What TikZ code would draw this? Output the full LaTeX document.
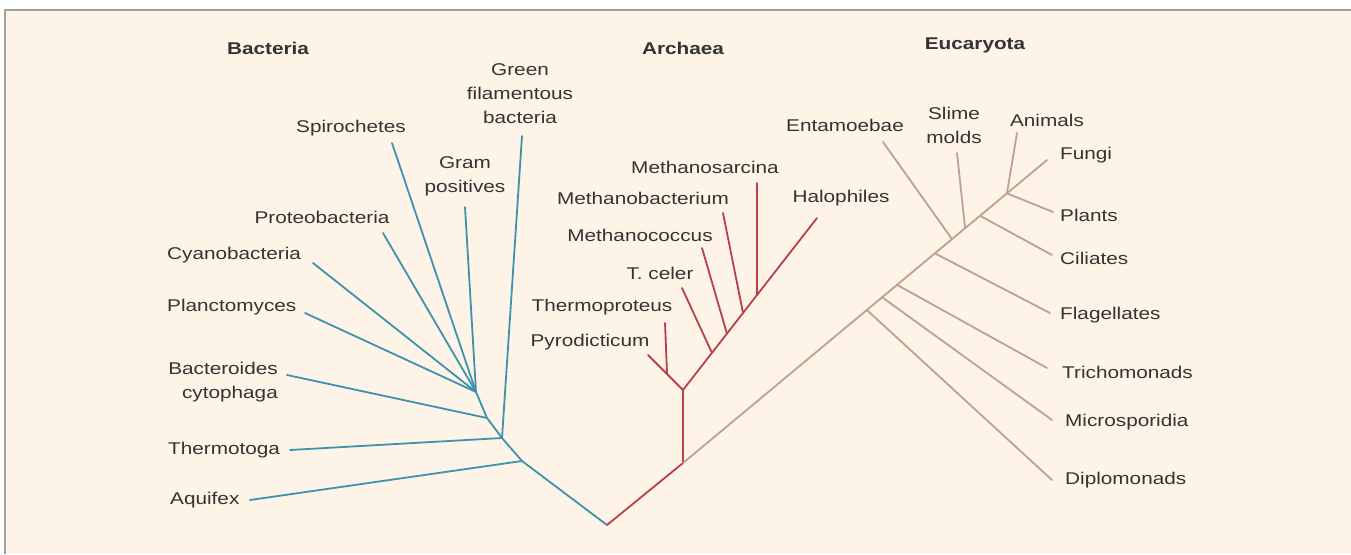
\documentclass[tikz,border=0pt]{standalone}
\usepackage{fontspec}
\setmainfont[FakeStretch=1.22]{Liberation Sans}
\usetikzlibrary{calc}
\definecolor{bgc}{HTML}{FDF3E7}
\definecolor{bluec}{HTML}{3D93AE}
\definecolor{redc}{HTML}{B8404C}
\definecolor{tanc}{HTML}{BFA091}
\definecolor{txtc}{HTML}{333333}
\definecolor{framec}{HTML}{A0A0A0}
\begin{document}
\begin{tikzpicture}[x=1pt,y=-1pt,
  lab/.style={inner sep=0pt,text=txtc,font=\fontsize{17}{24}\selectfont,align=center},
  ttl/.style={inner sep=0pt,text=txtc,font=\fontsize{17}{24}\selectfont\bfseries},
  bl/.style={draw=bluec,line width=1.8pt,line cap=round,line join=round},
  rd/.style={draw=redc,line width=1.8pt,line cap=round,line join=round},
  tn/.style={draw=tanc,line width=1.8pt,line cap=round,line join=round}]
\useasboundingbox (0,0) rectangle (1351,554);
\fill[white] (0,0) rectangle (1351,554);
\fill[bgc] (5,10) rectangle (1351,554);
\draw[framec,line width=1.2pt] (5,554) -- (5,10) -- (1351,10);

% titles
\node[ttl] (tB) at (268,48) {Bacteria};
\node[ttl] (tA) at (683,48) {Archaea};
\node[ttl] (tE) at (975,45) {Eucaryota};

% ---- Bacteria ----
\coordinate (R) at (607,525);
\coordinate (bA) at (522,461);
\coordinate (bT) at (502,438);
\coordinate (bB) at (487,418);
\coordinate (bC) at (476,392);
\coordinate (tAq) at (250,500);
\coordinate (tTh) at (290,450);
\coordinate (tBa) at (287,375);
\coordinate (tPl) at (305,313);
\coordinate (tCy) at (313,263);
\coordinate (tPr) at (383,233);
\coordinate (tSp) at (392,143);
\coordinate (tGr) at (465,207);
\coordinate (tGf) at (522,136);

\draw[bl] (R) -- (bA) -- (bT) -- (bB) -- (bC);
\draw[bl] (bA) -- (tAq);
\draw[bl] (bT) -- (tTh);
\draw[bl] (bT) -- (tGf);
\draw[bl] (bB) -- (tBa);
\draw[bl] (bC) -- (tPl);
\draw[bl] (bC) -- (tCy);
\draw[bl] (bC) -- (tPr);
\draw[bl] (bC) -- (tSp);
\draw[bl] (bC) -- (tGr);

\node[lab] (lGf) at (520,94) {Green\\filamentous\\bacteria};
\node[lab] (lSp) at (351,128) {Spirochetes};
\node[lab] (lGr) at (465,176) {Gram\\positives};
\node[lab] (lPr) at (322,217) {Proteobacteria};
\node[lab,anchor=west] (lCy) at (167,255) {Cyanobacteria};
\node[lab,anchor=west] (lPl) at (167,307) {Planctomyces};
\node[lab,anchor=east,align=right] (lBa) at (278,382) {Bacteroides\\cytophaga};
\node[lab,anchor=west] (lTh) at (168,450) {Thermotoga};
\node[lab,anchor=west] (lAq) at (170,500) {Aquifex};

% ---- Archaea ----
\coordinate (aR) at (683,463);
\coordinate (aJ) at (683,390);
\coordinate (tPy) at (648,355);
\coordinate (tTp) at (665,323);
\coordinate (jTp) at (667,373);
\coordinate (tHa) at (817,218);
\coordinate (jTc) at ($(aJ)!0.216!(tHa)$);
\coordinate (jMc) at ($(aJ)!0.328!(tHa)$);
\coordinate (jMb) at ($(aJ)!0.448!(tHa)$);
\coordinate (jMs) at ($(aJ)!0.552!(tHa)$);
\coordinate (tTc) at (682,288);
\coordinate (tMc) at (702,248);
\coordinate (tMb) at (723,213);
\coordinate (tMs) at (757,183);

\draw[rd] (R) -- (aR) -- (aJ);
\draw[rd] (aJ) -- (tPy);
\draw[rd] (jTp) -- (tTp);
\draw[rd] (aJ) -- (tHa);
\draw[rd] (jTc) -- (tTc);
\draw[rd] (jMc) -- (tMc);
\draw[rd] (jMb) -- (tMb);
\draw[rd] (jMs) -- (tMs);

\node[lab] (lMs) at (705,167) {Methanosarcina};
\node[lab] (lMb) at (643,198) {Methanobacterium};
\node[lab] (lHa) at (841,198) {Halophiles};
\node[lab] (lMc) at (640,235) {Methanococcus};
\node[lab] (lTc) at (660,273) {T. celer};
\node[lab] (lTp) at (602,307) {Thermoproteus};
\node[lab] (lPy) at (590,342) {Pyrodicticum};

% ---- Eucaryota ----
\coordinate (tFu) at (1047,160);
\coordinate (jDi) at ($(aR)!0.505!(tFu)$);
\coordinate (jMi) at ($(aR)!0.547!(tFu)$);
\coordinate (jTr) at ($(aR)!0.588!(tFu)$);
\coordinate (jFl) at ($(aR)!0.692!(tFu)$);
\coordinate (jEn) at ($(aR)!0.739!(tFu)$);
\coordinate (jSl) at ($(aR)!0.775!(tFu)$);
\coordinate (jCi) at ($(aR)!0.816!(tFu)$);
\coordinate (jAn) at ($(aR)!0.890!(tFu)$);
\coordinate (tDi) at (1052,480);
\coordinate (tMi) at (1052,420);
\coordinate (tTr) at (1047,368);
\coordinate (tFl) at (1050,313);
\coordinate (tCi) at (1052,255);
\coordinate (tPla) at (1053,212);
\coordinate (tEn) at (883,142);
\coordinate (tSl) at (957,153);
\coordinate (tAn) at (1017,133);

\draw[tn] (aR) -- (tFu);
\draw[tn] (jDi) -- (tDi);
\draw[tn] (jMi) -- (tMi);
\draw[tn] (jTr) -- (tTr);
\draw[tn] (jFl) -- (tFl);
\draw[tn] (jEn) -- (tEn);
\draw[tn] (jSl) -- (tSl);
\draw[tn] (jCi) -- (tCi);
\draw[tn] (jAn) -- (tAn);
\draw[tn] (jAn) -- (tPla);

\node[lab] (lEn) at (845,125) {Entamoebae};
\node[lab] (lSl) at (954,125) {Slime\\molds};
\node[lab] (lAn) at (1047,120) {Animals};
\node[lab,anchor=west] (lFu) at (1060,155) {Fungi};
\node[lab,anchor=west] (lPla) at (1060,215) {Plants};
\node[lab,anchor=west] (lCi) at (1060,258) {Ciliates};
\node[lab,anchor=west] (lFl) at (1060,315) {Flagellates};
\node[lab,anchor=west] (lTr) at (1062,372) {Trichomonads};
\node[lab,anchor=west] (lMi) at (1065,422) {Microsporidia};
\node[lab,anchor=west] (lDi) at (1065,480) {Diplomonads};
\end{tikzpicture}
\end{document}
